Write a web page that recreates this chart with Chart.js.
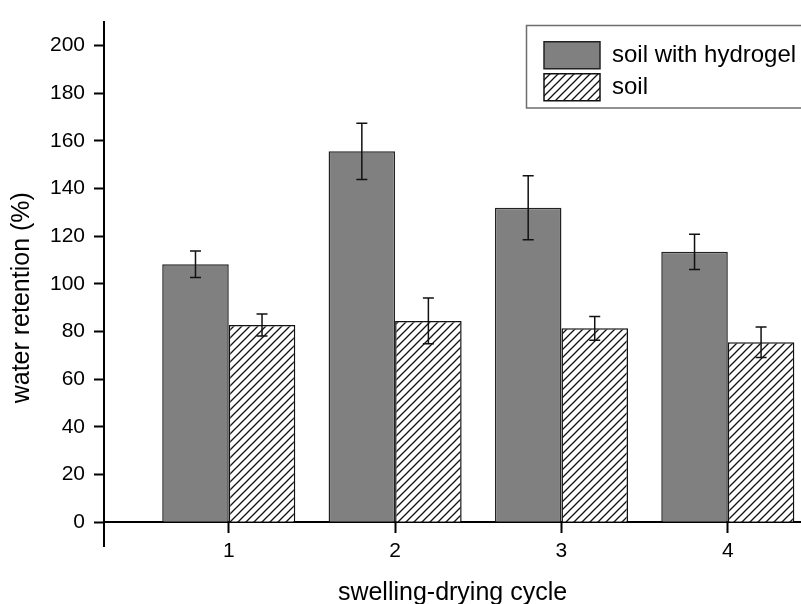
<!DOCTYPE html>
<html>
<head>
<meta charset="utf-8">
<script src="https://cdn.jsdelivr.net/npm/chart.js@4.4.0/dist/chart.umd.min.js"></script>
<style>
  html, body { margin: 0; padding: 0; background: #fff; }
  #c { display: block; }
</style>
</head>
<body>
<canvas id="c" width="801" height="604"></canvas>
<script>
// ---- data ----
const categories = [1, 2, 3, 4];
const hydrogelValues = [108.2, 155.6, 131.9, 113.4];
const hydrogelErrors = [5.6, 11.8, 13.4, 7.4];
const soilValues = [82.7, 84.4, 81.3, 75.5];
const soilErrors = [4.6, 9.6, 5.0, 6.4];
const yTicks = [0, 20, 40, 60, 80, 100, 120, 140, 160, 180, 200];
const seriesNames = ['soil with hydrogel', 'soil'];
const xTitle = 'swelling-drying cycle';
const yTitle = 'water retention (%)';

const FONT = 'Liberation Sans, Arial, sans-serif';

function makeHatch() {
  const c = document.createElement('canvas');
  c.width = 8; c.height = 8;
  const g = c.getContext('2d');
  g.fillStyle = '#ffffff';
  g.fillRect(0, 0, 8, 8);
  g.strokeStyle = '#111111';
  g.lineWidth = 1.3;
  g.beginPath();
  g.moveTo(0, 8); g.lineTo(8, 0);
  g.moveTo(-2, 2); g.lineTo(2, -2);
  g.moveTo(6, 10); g.lineTo(10, 6);
  g.stroke();
  return g.createPattern(c, 'repeat');
}
const hatch = makeHatch();

const errorBarPlugin = {
  id: 'errorBars',
  afterDatasetsDraw(chart) {
    const ctx = chart.ctx;
    const yScale = chart.scales.y;
    ctx.save();
    ctx.strokeStyle = '#111111';
    ctx.lineWidth = 1.5;
    chart.data.datasets.forEach((ds, di) => {
      const meta = chart.getDatasetMeta(di);
      meta.data.forEach((bar, i) => {
        const v = ds.data[i].y;
        const e = ds.errors[i];
        const yTop = yScale.getPixelForValue(v + e);
        const yBot = yScale.getPixelForValue(v - e);
        const x = bar.x;
        const cap = 5.5;
        ctx.beginPath();
        ctx.moveTo(x, yTop); ctx.lineTo(x, yBot);
        ctx.moveTo(x - cap, yTop); ctx.lineTo(x + cap, yTop);
        ctx.moveTo(x - cap, yBot); ctx.lineTo(x + cap, yBot);
        ctx.stroke();
      });
    });
    ctx.restore();
  }
};

const legendPlacePlugin = {
  id: 'legendPlace',
  afterLayout(chart) {
    const lg = chart.legend;
    if (!lg) return;
    const w = lg.width, h = lg.height;
    lg.left = 539; lg.top = 36.7;
    lg.right = lg.left + w; lg.bottom = lg.top + h;
  },
  afterDraw(chart) {
    const ctx = chart.ctx;
    ctx.save();
    ctx.strokeStyle = '#6e6e6e';
    ctx.lineWidth = 1.5;
    ctx.strokeRect(526.5, 25.5, 290, 82.5);
    ctx.restore();
  }
};

new Chart(document.getElementById('c'), {
  type: 'bar',
  data: {
    datasets: [
      {
        label: seriesNames[0],
        data: categories.map((c, i) => ({ x: c, y: hydrogelValues[i] })),
        errors: hydrogelErrors,
        backgroundColor: '#808080',
        borderColor: '#222222',
        borderWidth: 1.5,
        categoryPercentage: 0.8,
        barPercentage: 1.0
      },
      {
        label: seriesNames[1],
        data: categories.map((c, i) => ({ x: c, y: soilValues[i] })),
        errors: soilErrors,
        backgroundColor: hatch,
        borderColor: '#111111',
        borderWidth: 1.5,
        categoryPercentage: 0.8,
        barPercentage: 1.0
      }
    ]
  },
  options: {
    responsive: false,
    animation: false,
    devicePixelRatio: 1,
    layout: { padding: { top: 19, left: 0, right: 0, bottom: 58 } },
    plugins: {
      tooltip: { enabled: false },
      legend: {
        position: 'chartArea',
        align: 'start',
        labels: {
          boxWidth: 56,
          boxHeight: 27,
          padding: 5,
          color: '#000',
          font: { family: FONT, size: 24 }
        }
      }
    },
    scales: {
      x: {
        type: 'linear',
        position: { y: 0 },
        offset: false,
        min: 0.25,
        max: 4.44,
        afterBuildTicks(scale) { scale.ticks = categories.map(v => ({ value: v })); },
        afterFit(scale) { scale.height = 58; },
        ticks: {
          color: '#000',
          padding: 6,
          font: { family: FONT, size: 21 },
          callback: v => String(v)
        },
        grid: { offset: false, drawOnChartArea: false, drawTicks: true, tickLength: 10, tickWidth: 2, color: '#000' },
        border: { display: true, color: '#000', width: 2 },
        title: {
          display: true,
          text: xTitle,
          color: '#000',
          font: { family: FONT, size: 25 },
          padding: { top: 0, bottom: -28 }
        }
      },
      y: {
        type: 'linear',
        min: -10,
        max: 210,
        afterBuildTicks(scale) { scale.ticks = yTicks.map(v => ({ value: v })); },
        afterFit(scale) { scale.width = 104; },
        ticks: {
          color: '#000',
          padding: 9,
          font: { family: FONT, size: 21 }
        },
        grid: { drawOnChartArea: false, drawTicks: true, tickLength: 10, tickWidth: 2, color: '#000' },
        border: { display: true, color: '#000', width: 2 },
        title: {
          display: true,
          text: yTitle + '    ',
          color: '#000',
          font: { family: FONT, size: 25 },
          padding: { top: 7, bottom: 0 }
        }
      }
    }
  },
  plugins: [errorBarPlugin, legendPlacePlugin]
});
</script>
</body>
</html>
